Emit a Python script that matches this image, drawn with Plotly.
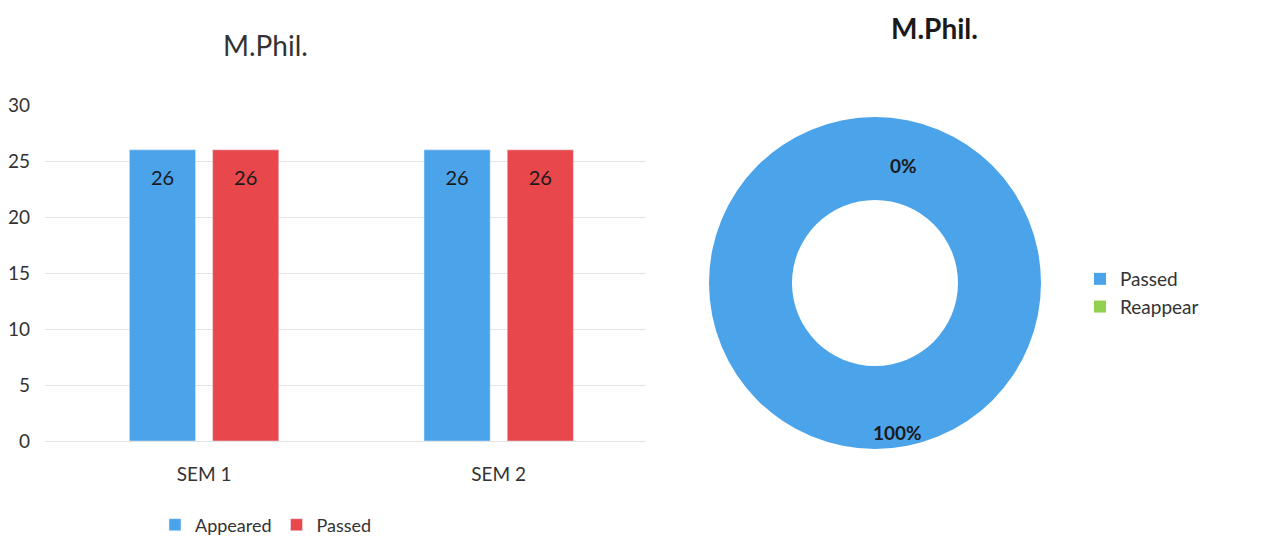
import plotly.graph_objects as go

# Data
semesters = ["SEM 1", "SEM 2"]
appeared = [26, 26]
passed = [26, 26]
result_labels = ["Passed", "Reappear"]
result_values = [26, 0]

title_text = "M.Phil."
BLUE = "#4ba3ea"
RED = "#e8484c"
GREEN = "#92d050"
FONT = "Lato"
W, H = 1262, 538
OFF = 8  # page margin of the viewer


def px(x):
    return (x - OFF) / W


def py(y):
    return 1 - (y - OFF) / H


LABEL_TPL = "<span style='font-size:6px'>&nbsp;</span><br>%{y}"

fig = go.Figure()

fig.add_trace(go.Bar(
    x=semesters, y=appeared, name="Appeared", marker_color=BLUE,
    text=appeared, texttemplate=LABEL_TPL, textposition="inside",
    insidetextanchor="end", textfont=dict(size=20, color="#1a1a1a"),
    legend="legend", xaxis="x", yaxis="y",
))
fig.add_trace(go.Bar(
    x=semesters, y=passed, name="Passed", marker_color=RED,
    text=passed, texttemplate=LABEL_TPL, textposition="inside",
    insidetextanchor="end", textfont=dict(size=20, color="#1a1a1a"),
    legend="legend", xaxis="x", yaxis="y",
))

fig.add_trace(go.Pie(
    labels=result_labels, values=result_values, hole=0.5,
    marker=dict(colors=[BLUE, GREEN], line=dict(width=0)),
    textinfo="none",
    sort=False, direction="clockwise", rotation=0,
    domain=dict(x=[px(709), px(1041)], y=[py(449), py(117)]),
    legend="legend2", showlegend=True,
))

total = sum(result_values)
pct = [f"{round(100 * v / total)}%" for v in result_values]

fig.update_layout(
    width=W, height=H,
    margin=dict(l=0, r=0, t=0, b=0, autoexpand=False),
    paper_bgcolor="white", plot_bgcolor="white",
    font=dict(family=FONT, size=18, color="#333333"),
    barmode="group", bargap=0.435, bargroupgap=0.205,
    showlegend=True,
    xaxis=dict(
        domain=[px(45), px(646)], range=[-0.54, 1.5],
        showgrid=False, showline=False, ticks="",
        tickfont=dict(size=19, color="#333333"), ticklabelstandoff=20,
    ),
    yaxis=dict(
        domain=[py(441), py(105)], range=[0, 30], dtick=5,
        showgrid=True, gridcolor="#e3e3e3", gridwidth=1,
        zeroline=True, zerolinecolor="#e3e3e3", zerolinewidth=1,
        showline=False, ticks="",
        tickfont=dict(size=19, color="#333333"), ticklabelstandoff=14,
    ),
    legend=dict(
        orientation="h", x=px(266), xanchor="center", y=py(525), yanchor="middle",
        font=dict(size=18, color="#333333"), itemwidth=30,
        traceorder="normal",
    ),
    legend2=dict(
        orientation="v", x=px(1080), xanchor="left", y=py(293), yanchor="middle",
        font=dict(size=19, color="#333333"), itemwidth=30,
    ),
    annotations=[
        dict(text=title_text, x=px(265), y=py(45), xref="paper", yref="paper",
             xanchor="center", yanchor="middle",
             showarrow=False, font=dict(size=28, color="#333333")),
        dict(text="<b>" + title_text + "</b>", x=px(934), y=py(28), xref="paper",
             yref="paper", xanchor="center", yanchor="middle",
             showarrow=False, font=dict(size=28, color="#1a1a1a")),
        dict(text="<b>" + pct[1] + "</b>", x=px(903), y=py(165), xref="paper",
             yref="paper", xanchor="center", yanchor="middle",
             showarrow=False, font=dict(size=19, color="#1a1a1a")),
        dict(text="<b>" + pct[0] + "</b>", x=px(897), y=py(432), xref="paper",
             yref="paper", xanchor="center", yanchor="middle",
             showarrow=False, font=dict(size=19, color="#1a1a1a")),
    ],
)

fig.write_html("out.html")
